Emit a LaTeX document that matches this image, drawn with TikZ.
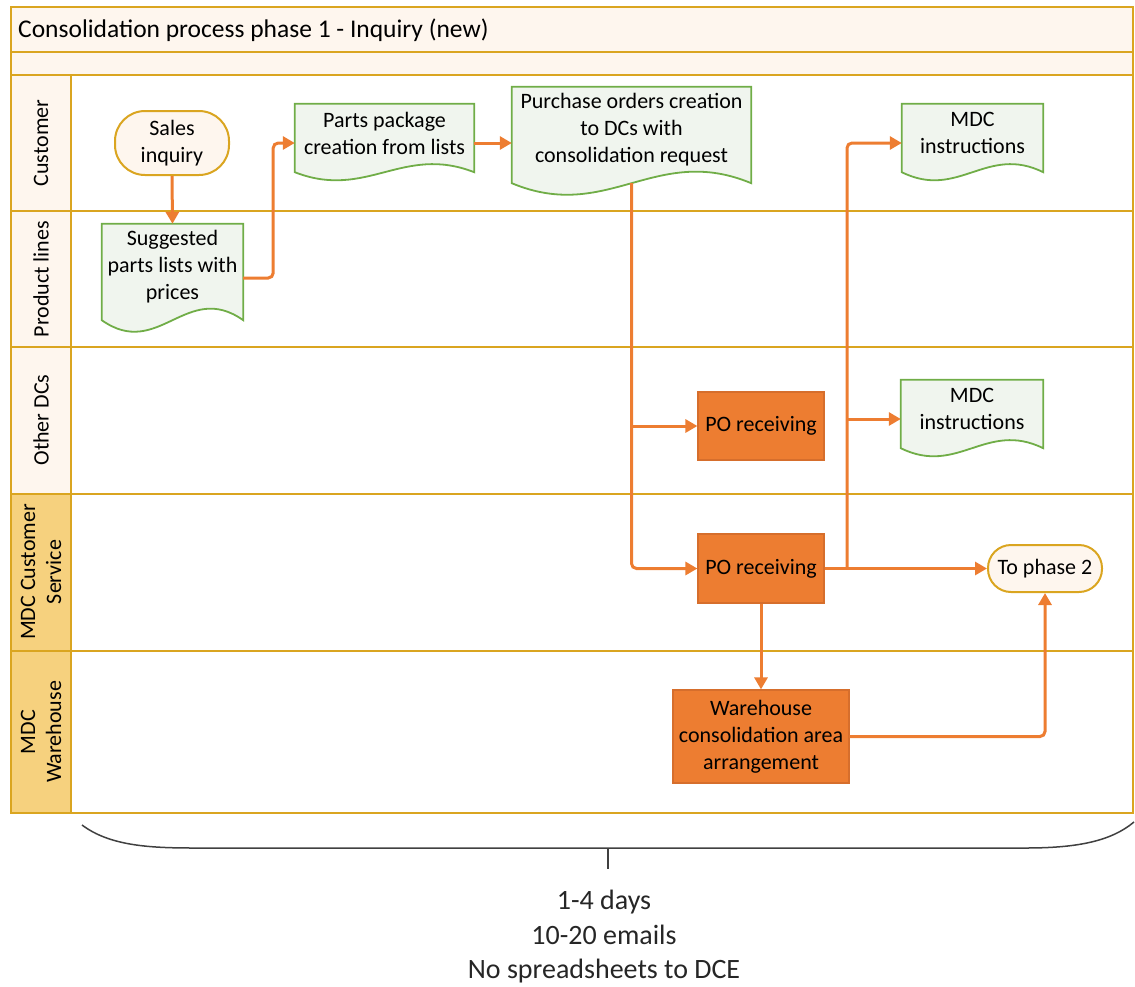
\documentclass[tikz,border=0pt]{standalone}
\usepackage{fontspec}
\setmainfont{Carlito}
\usetikzlibrary{arrows.meta,calc,backgrounds}

\definecolor{lanegold}{RGB}{218,165,32}
\definecolor{peach}{RGB}{254,246,238}
\definecolor{goldfill}{RGB}{246,209,126}
\definecolor{docgreen}{RGB}{112,173,71}
\definecolor{docfill}{RGB}{240,245,238}
\definecolor{procfill}{RGB}{237,125,49}
\definecolor{procline}{RGB}{214,110,44}
\definecolor{flow}{RGB}{237,125,49}
\definecolor{inkgray}{RGB}{38,38,38}
\definecolor{bracegray}{RGB}{64,64,64}

\tikzset{
  lane/.style={draw=lanegold, line width=2.4pt},
  nodefont/.style={font=\fontsize{22}{27}\selectfont, text=black, align=center},
  docnode/.style={nodefont, inner sep=0pt},
  docpath/.style={draw=docgreen, fill=docfill, line width=1.8pt},
  procbox/.style={nodefont, draw=procline, fill=procfill, line width=1.2pt, inner sep=2pt},
  termbox/.style={nodefont, draw=lanegold, fill=peach, line width=2pt, inner sep=2pt},
  lanelabel/.style={font=\fontsize{22}{26}\selectfont, rotate=90, align=center, text=black},
  flowarrow/.style={draw=flow, line width=3pt, rounded corners=5pt,
    -{Triangle[length=12pt,width=13pt]}},
}

% document shape: flat top, straight sides, wavy bottom
\newcommand\docshape[2]{%
  \coordinate (#1-sw) at ([yshift=-10pt]#1.south west);
  \coordinate (#1-se) at ([yshift=-10pt]#1.south east);
  \path[docpath] (#1.north west) -- (#1.north east) -- (#1-se)
    .. controls ($(#1-sw)!0.6!(#1-se)+(0,-#2)$) and ($(#1-sw)!0.4!(#1-se)+(0,#2)$) .. (#1-sw)
    -- cycle;
}

\begin{document}
\begin{tikzpicture}[x=1pt,y=-1pt]
\useasboundingbox (0,0) rectangle (1135,986);

% swimlane frame
\begin{scope}[on background layer]
  \path[lane, fill=peach] (11,7) rectangle (1133,52);
  \path[lane, fill=peach] (11,52) rectangle (1133,75);
  \path[lane, fill=peach] (11,75) rectangle (71,211);
  \path[lane, fill=peach] (11,211) rectangle (71,347);
  \path[lane, fill=peach] (11,347) rectangle (71,494);
  \path[lane, fill=goldfill] (11,494) rectangle (71,651);
  \path[lane, fill=goldfill] (11,651) rectangle (71,813);
  \path[lane] (71,75) rectangle (1133,211);
  \path[lane] (71,211) rectangle (1133,347);
  \path[lane] (71,347) rectangle (1133,494);
  \path[lane] (71,494) rectangle (1133,651);
  \path[lane] (71,651) rectangle (1133,813);
\end{scope}

\node[anchor=west, font=\fontsize{25.5}{30}\selectfont, inner sep=0pt] (title) at (18,30)
  {Consolidation process phase 1 - Inquiry (new)};

\node[lanelabel] (lcust) at (41,143) {Customer};
\node[lanelabel] (lprod) at (41,279) {Product lines};
\node[lanelabel] (lother) at (41,420) {Other DCs};
\node[lanelabel] (lmdccs) at (41,572) {MDC Customer\\Service};
\node[lanelabel] (lmdcwh) at (41,732) {MDC\\Warehouse};

% terminals
\node[termbox, minimum width=114pt, minimum height=64pt, rounded corners=30pt] (sales) at (172,143) {Sales\\inquiry};
\node[termbox, minimum width=114pt, minimum height=47pt, rounded corners=23pt] (ph2) at (1045,568.5) {To phase 2};

% documents
\node[docnode, minimum width=141pt, minimum height=86pt] (sug) at (172.5,267) {Suggested\\parts lists with\\prices};
\node[docnode, minimum width=179pt, minimum height=58pt] (pp) at (384.5,133) {Parts package\\creation from lists};
\node[docnode, minimum width=239pt, minimum height=86pt] (po) at (631.5,130) {Purchase orders creation\\to DCs with\\consolidation request};
\node[docnode, minimum width=141pt, minimum height=58pt] (mdc1) at (972.5,133) {MDC\\instructions};
\node[docnode, minimum width=142pt, minimum height=58pt] (mdc2) at (972,409) {MDC\\instructions};

\begin{scope}[on background layer]
  \docshape{sug}{40}
  \docshape{pp}{28}
  \docshape{po}{40}
  \docshape{mdc1}{28}
  \docshape{mdc2}{28}
\end{scope}

% processes
\node[procbox, minimum width=126pt, minimum height=68pt] (por1) at (761,426) {PO receiving};
\node[procbox, minimum width=126pt, minimum height=69pt] (por2) at (761,568.5) {PO receiving};
\node[procbox, minimum width=176pt, minimum height=93pt] (wh) at (761,736.5) {Warehouse\\consolidation area\\arrangement};

% connection points
\coordinate (sugout) at ([yshift=-11pt]sug.east);
\coordinate (ppin) at ([yshift=-10pt]pp.west);
\coordinate (ppout) at ([yshift=-10pt]pp.east);
\coordinate (poin) at ([yshift=-13pt]po.west);
\coordinate (poout) at ([yshift=-10pt]po.south);
\coordinate (m1in) at ([yshift=-10pt]mdc1.west);
\coordinate (m2in) at ([yshift=-10pt]mdc2.west);
\coordinate (br) at (847,568.5);

% flow
\draw[flowarrow] (sales.south) -- (sug.north);
\draw[flowarrow] (sugout) -- ++(30,0) |- (ppin);
\draw[flowarrow] (ppout) -- (poin);
\draw[flowarrow] (poout) |- (por2.west);
\draw[flowarrow] (por1.west -| poout) -- (por1.west);
\draw[flowarrow] (por2.east) -- (ph2.west);
\draw[flowarrow] (br) |- (m1in);
\draw[flowarrow] (br |- m2in) -- (m2in);
\draw[flowarrow] (por2.south) -- (wh.north);
\draw[flowarrow] (wh.east) -| (ph2.south);

% bracket over the whole phase
\draw[bracegray, line width=1.5pt] (82,825) .. controls (110,846) and (150,848) .. (195,848)
  -- (1025,848) .. controls (1075,848) and (1110,842) .. (1134,822);
\draw[bracegray, line width=1.5pt] (608,848) -- (608,869);

\node[font=\fontsize{28}{34.5}\selectfont, text=inkgray, align=center] (summary) at (604,937)
  {1-4 days\\10-20 emails\\No spreadsheets to DCE};

\end{tikzpicture}
\end{document}
